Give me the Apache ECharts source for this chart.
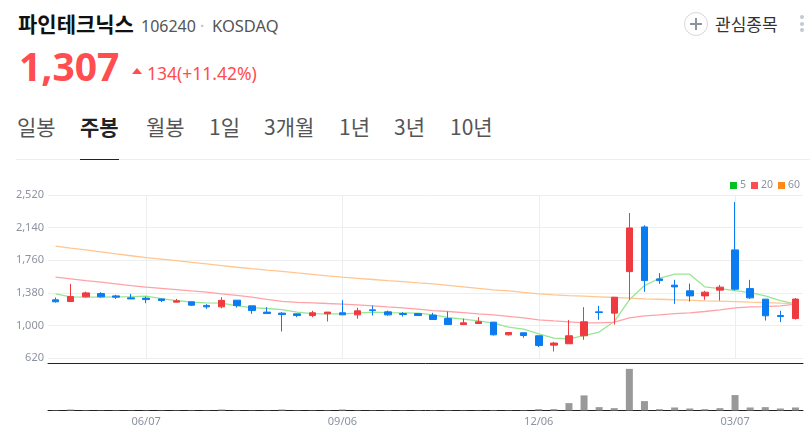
<!DOCTYPE html>
<html>
<head>
<meta charset="utf-8">
<script src="https://cdn.jsdelivr.net/npm/echarts@6/dist/echarts.min.js"></script>
<style>
	html, body { margin: 0; padding: 0; background: #fff; }
	body { width: 810px; height: 440px; position: relative; overflow: hidden; font-family: "Noto Sans CJK KR", "Noto Sans", sans-serif; }
	.abs { position: absolute; white-space: nowrap; line-height: 1; }
	.tab { top: 116px; font-size: 21px; color: #555; }
	#chart { position: absolute; left: 0; top: 170px; width: 810px; height: 270px; }
</style>
</head>
<body>
	<div class="abs" style="left:18px;top:13px;font-size:21px;font-weight:700;color:#111;">파인테크닉스</div>
	<div class="abs" style="left:141px;top:18px;font-size:16px;color:#555;font-family:'Noto Sans'">106240</div>
	<div class="abs" style="left:200px;top:18px;font-size:16px;color:#bbb;font-family:'Noto Sans'">·</div>
	<div class="abs" style="left:212px;top:18px;font-size:16.5px;color:#555;font-family:'Noto Sans'">KOSDAQ</div>
	<div class="abs" style="left:19px;top:46px;font-size:39px;font-weight:700;color:#ff4d50;font-family:'Noto Sans'">1,307</div>
	<div class="abs" style="left:132px;top:68px;width:0;height:0;border-left:5px solid transparent;border-right:5px solid transparent;border-bottom:6px solid #ff4d50;"></div>
	<div class="abs" style="left:147px;top:65px;font-size:17.5px;color:#ff4d50;font-family:'Noto Sans'">134(+11.42%)</div>

	<div class="abs" style="left:684px;top:12px;width:22px;height:22px;border:1px solid #d5d8e0;border-radius:50%;"></div>
	<div class="abs" style="left:690px;top:23px;width:12px;height:2px;background:#8b92a0;"></div>
	<div class="abs" style="left:695px;top:18px;width:2px;height:12px;background:#8b92a0;"></div>
	<div class="abs" style="left:715px;top:15px;font-size:17px;color:#333;">관심종목</div>
	<div class="abs" style="left:800px;top:15px;width:4px;height:4px;border-radius:50%;background:#c5c8d0;"></div>
	<div class="abs" style="left:800px;top:22px;width:4px;height:4px;border-radius:50%;background:#c5c8d0;"></div>
	<div class="abs" style="left:800px;top:28px;width:4px;height:4px;border-radius:50%;background:#c5c8d0;"></div>

	<div class="abs tab" style="left:17px;">일봉</div>
	<div class="abs tab" style="left:80px;font-weight:700;color:#222;">주봉</div>
	<div class="abs tab" style="left:146px;">월봉</div>
	<div class="abs tab" style="left:209px;">1일</div>
	<div class="abs tab" style="left:264px;">3개월</div>
	<div class="abs tab" style="left:339px;">1년</div>
	<div class="abs tab" style="left:394px;">3년</div>
	<div class="abs tab" style="left:450px;">10년</div>
	<div class="abs" style="left:16px;top:159px;width:794px;height:1px;background:#eee;"></div>
	<div class="abs" style="left:80px;top:159px;width:39px;height:1px;background:#222;"></div>

	<div id="chart"></div>

<script>
const weeks = ['04/26','05/03','05/10','05/17','05/24','05/31','06/07','06/14','06/21','06/28',
	'07/05','07/12','07/19','07/26','08/02','08/09','08/16','08/23','08/30','09/06',
	'09/13','09/20','09/27','10/04','10/11','10/18','10/25','11/01','11/08','11/15',
	'11/22','11/29','12/06','12/13','12/20','12/27','01/03','01/10','01/17','01/24',
	'01/31','02/07','02/14','02/21','02/28','03/07','03/14','03/21','03/28','04/04']
const shownWeeks = ['06/07','09/06','12/06','03/07']
const yTicks = [620,1000,1380,1760,2140,2520]

// open, close, low, high
const candles = [
	[1298,1275,1266,1325],[1278,1336,1278,1484],[1333,1379,1325,1394],[1371,1333,1325,1387],[1344,1329,1309,1356],
	[1321,1309,1309,1368],[1318,1301,1259,1336],[1309,1290,1271,1309],[1271,1286,1271,1309],[1275,1236,1228,1275],
	[1231,1216,1193,1248],[1216,1292,1199,1329],[1294,1231,1208,1294],[1228,1173,1135,1228],[1155,1138,1138,1213],
	[1143,1127,929,1155],[1135,1115,1096,1135],[1115,1147,1096,1170],[1135,1155,1045,1155],[1147,1123,1123,1294],
	[1123,1170,1077,1205],[1181,1173,1115,1231],[1158,1123,1112,1173],[1138,1127,1103,1155],[1138,1115,1115,1143],
	[1120,1069,1069,1147],[1080,1010,1010,1162],[1010,1030,1010,1080],[1022,1042,1022,1096],[1038,890,882,1038],
	[890,917,882,917],[914,882,856,914],[879,766,747,879],[770,794,696,809],[786,879,786,1062],
	[879,1042,832,1213],[1158,1150,1065,1228],[1143,1329,1010,1329],[1627,2136,1298,2310],[2148,1522,1391,2167],
	[1542,1522,1484,1609],[1469,1449,1251,1531],[1403,1344,1278,1488],[1344,1387,1298,1403],[1411,1446,1290,1472],
	[1880,1422,1406,2438],[1429,1321,1309,1531],[1306,1112,1057,1306],[1115,1103,1038,1170],[1080,1307,1068,1318]
]
const ma5 = [1368,1333,1329,1329,1333,1336,1341,1313,1290,1271,
	1263,1259,1228,1208,1197,1185,1155,1138,1135,1135,
	1143,1155,1150,1147,1143,1123,1092,1073,1053,1027,
	980,957,902,852,844,882,922,1045,1298,1464,
	1550,1597,1597,1449,1429,1406,1383,1344,1290,1251]
const ma20 = [1562,1542,1522,1504,1484,1464,1446,1432,1418,1403,
	1389,1368,1350,1329,1304,1280,1269,1263,1255,1248,
	1240,1228,1216,1205,1190,1173,1162,1150,1135,1123,
	1106,1088,1065,1053,1042,1030,1030,1038,1088,1112,
	1123,1138,1147,1162,1181,1205,1216,1220,1228,1248]
const ma60 = [1923,1901,1880,1857,1833,1812,1790,1772,1754,1735,
	1717,1696,1678,1661,1645,1630,1612,1595,1577,1562,
	1548,1535,1522,1510,1496,1484,1467,1449,1432,1414,
	1403,1385,1368,1356,1348,1341,1333,1325,1318,1309,
	1305,1299,1294,1286,1283,1278,1271,1265,1259,1255]
const volumes = [400,1500,500,400,500,400,500,400,400,500,
	400,1500,500,400,400,1500,400,400,500,1500,
	500,400,500,400,400,500,500,400,400,600,
	400,500,2000,2000,11000,22500,5000,3500,62000,14000,
	2000,4500,3000,2000,3500,23000,4500,5000,3000,4500]

const isShown = (i, value) => shownWeeks.includes(value)
const axisFont = { color: '#8b92a0', fontSize: 11, fontFamily: 'Noto Sans' }

const chart = echarts.init(document.getElementById('chart'))
chart.setOption({
	animation: false,
	legend: {
		data: ['5', '20', '60'],
		right: 10,
		top: 10,
		icon: 'rect',
		itemWidth: 7,
		itemHeight: 7,
		itemGap: 5,
		selectedMode: false,
		padding: 0,
		textStyle: { color: '#8b92a0', fontSize: 10.5, fontFamily: 'Noto Sans', padding: [0, 0, 0, -2] }
	},
	grid: [
		{ left: 48, right: 7, top: 25, height: 163 },
		{ left: 48, right: 7, top: 193.5, height: 47 }
	],
	xAxis: [
		{
			type: 'category', gridIndex: 0, data: weeks,
			axisLine: { show: false }, axisTick: { show: false }, axisLabel: { show: false },
			splitLine: { show: true, alignWithLabel: true, interval: isShown, lineStyle: { color: '#eee' } }
		},
		{
			type: 'category', gridIndex: 1, data: weeks,
			axisLine: { lineStyle: { color: '#222' } },
			axisTick: { alignWithLabel: true, interval: isShown, length: 4, lineStyle: { color: '#444', width: 1.5 } },
			axisLabel: Object.assign({ interval: isShown, margin: 6 }, axisFont),
			splitLine: { show: false }
		},
		{
			type: 'category', gridIndex: 1, data: weeks, position: 'top',
			axisLine: { lineStyle: { color: '#222' } }, axisTick: { show: false }, axisLabel: { show: false }
		}
	],
	yAxis: [
		{
			type: 'value', gridIndex: 0, min: 620, max: 2520, scale: true,
			axisLine: { show: false },
			axisTick: { show: false, customValues: yTicks },
			axisLabel: Object.assign({
				customValues: yTicks, margin: 4, padding: [2, 0, 0, 0],
				formatter: v => v.toLocaleString('en-US')
			}, axisFont),
			splitLine: { lineStyle: { color: '#eee' } }
		},
		{
			type: 'value', gridIndex: 1, min: 0, max: 70000,
			axisLine: { show: false }, axisTick: { show: false }, axisLabel: { show: false }, splitLine: { show: false }
		}
	],
	series: [
		{ name: '5', type: 'line', data: ma5, showSymbol: false, symbol: 'none', itemStyle: { color: '#00c322' }, lineStyle: { color: '#97e693', width: 1.3 } },
		{ name: '20', type: 'line', data: ma20, showSymbol: false, symbol: 'none', itemStyle: { color: '#ff4b55' }, lineStyle: { color: '#ffa2a6', width: 1.3 } },
		{ name: '60', type: 'line', data: ma60, showSymbol: false, symbol: 'none', itemStyle: { color: '#ff8a1c' }, lineStyle: { color: '#ffc68f', width: 1.3 } },
		{
			type: 'candlestick', data: candles, barWidth: 7, z: 3,
			itemStyle: { color: '#ef3a3f', color0: '#0b7cf0', borderColor: '#ef3a3f', borderColor0: '#0b7cf0', borderWidth: 1 }
		},
		{
			type: 'bar', xAxisIndex: 1, yAxisIndex: 1, data: volumes, barWidth: 7,
			itemStyle: { color: '#999' }
		}
	]
})
</script>
</body>
</html>
